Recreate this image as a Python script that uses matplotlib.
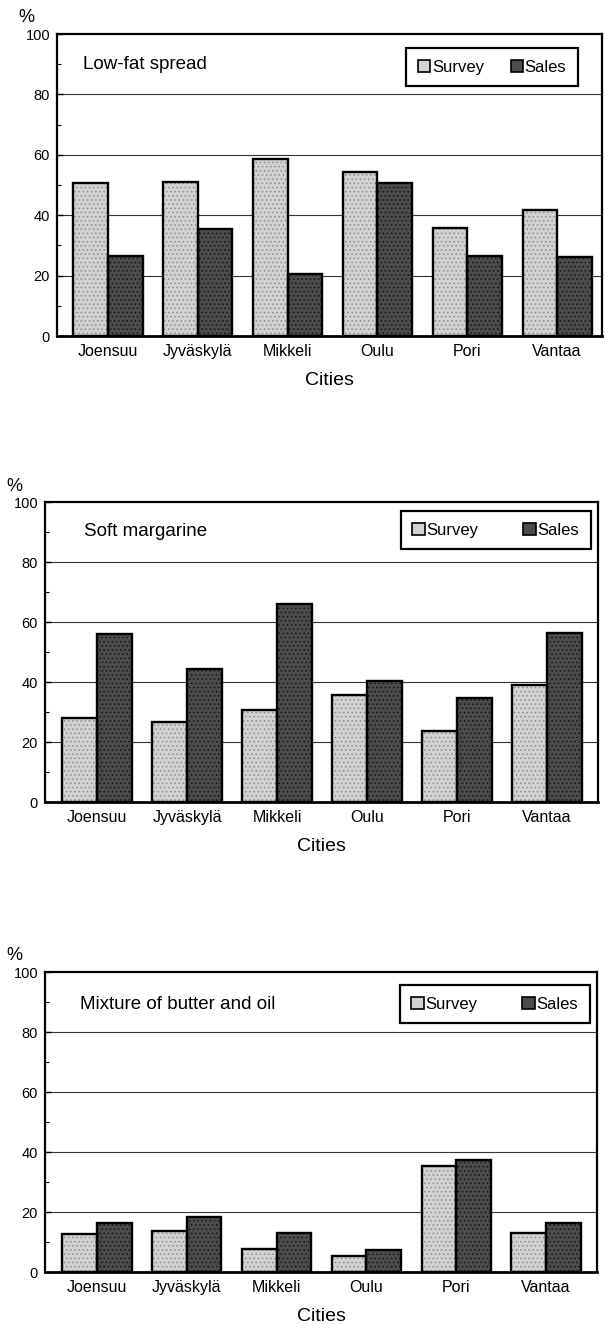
import numpy as np
import matplotlib
matplotlib.use("Agg")
import matplotlib.pyplot as plt
from matplotlib.patches import Patch
from matplotlib.ticker import MultipleLocator

plt.rcParams['font.family'] = ['Liberation Sans', 'DejaVu Sans']
plt.rcParams['hatch.linewidth'] = 0.6

# data (percent)
cities = ["Joensuu", "Jyväskylä", "Mikkeli", "Oulu", "Pori", "Vantaa"]
titles = ["Low-fat spread", "Soft margarine", "Mixture of butter and oil"]

lowfat_survey = [50.7, 51.0, 58.7, 54.3, 35.8, 41.6]
lowfat_sales = [26.4, 35.5, 20.5, 50.7, 26.4, 26.2]

soft_survey = [28.0, 26.8, 30.7, 35.8, 23.8, 39.0]
soft_sales = [56.1, 44.5, 66.1, 40.4, 34.7, 56.5]

mix_survey = [12.6, 13.8, 7.7, 5.5, 35.3, 13.0]
mix_sales = [16.3, 18.2, 13.0, 7.3, 37.5, 16.5]

W, H = 605, 1325
fig = plt.figure(figsize=(W / 100, H / 100), dpi=100)

# panel boxes in pixels: left, right, top, bottom
boxes = [(57, 602, 34, 336), (45, 598, 502, 802), (45, 597, 972, 1272)]
xlims = [(-0.568, 5.50), (-0.578, 5.567), (-0.578, 5.567)]
legend_anchor = [(0.956, 0.954), (0.987, 0.97), (0.987, 0.957)]
legend_colsp = [1.6, 2.7, 2.7]
title_pos = [(0.048, 0.90), (0.07, 0.903), (0.063, 0.893)]

survey_fc, survey_hc = "#d2d2d2", "#8c8c8c"
sales_fc, sales_hc = "#4c4c4c", "#141414"

series = [(lowfat_survey, lowfat_sales), (soft_survey, soft_sales), (mix_survey, mix_sales)]

x = np.arange(len(cities))
w = 0.385

for i, (surv, sale) in enumerate(series):
    l, r, t, b = boxes[i]
    ax = fig.add_axes([l / W, 1 - b / H, (r - l) / W, (b - t) / H])

    # fill + hatch first, then black outline on top
    ax.bar(x - w / 2, surv, w, color=survey_fc, edgecolor=survey_hc, hatch="....", lw=0, zorder=2)
    ax.bar(x + w / 2, sale, w, color=sales_fc, edgecolor=sales_hc, hatch="....", lw=0, zorder=2)
    ax.bar(x - w / 2, surv, w, fill=False, edgecolor="black", lw=1.7, zorder=3)
    ax.bar(x + w / 2, sale, w, fill=False, edgecolor="black", lw=1.7, zorder=3)

    ax.set_ylim(0, 100)
    ax.set_xlim(*xlims[i])
    ax.yaxis.set_major_locator(MultipleLocator(20))
    ax.yaxis.set_minor_locator(MultipleLocator(10))
    for yv in [20, 40, 60, 80]:
        ax.axhline(yv, color="#333333", lw=0.8, zorder=1)

    ax.set_xticks(x)
    ax.set_xticklabels(cities, fontsize=11.5)
    ax.tick_params(axis="x", length=0, pad=6)
    ax.tick_params(axis="y", which="major", direction="in", length=4, width=1, labelsize=10.5, pad=5)
    ax.tick_params(axis="y", which="minor", direction="in", length=3, width=0.8)
    for sp in ax.spines.values():
        sp.set_linewidth(1.6)
    ax.spines["bottom"].set_linewidth(2.0)

    ax.set_xlabel("Cities", fontsize=14, labelpad=9)
    ax.annotate("%", xy=(0, 1), xycoords="axes fraction", xytext=(-31, 16),
                textcoords="offset pixels", ha="center", va="center", fontsize=13)

    tx, ty = title_pos[i]
    ax.text(tx, ty, titles[i], transform=ax.transAxes, fontsize=13.5, va="center", ha="left")

    handles = [Patch(facecolor=survey_fc, edgecolor="black", lw=1.2, label="Survey"),
               Patch(facecolor=sales_fc, edgecolor="black", lw=1.2, label="Sales")]
    leg = ax.legend(handles=handles, loc="upper right", bbox_to_anchor=legend_anchor[i],
                    ncol=2, fontsize=12, frameon=True, fancybox=False, borderaxespad=0,
                    handlelength=0.75, handleheight=0.75, handletextpad=0.1,
                    columnspacing=legend_colsp[i], borderpad=0.7)
    leg.get_frame().set_edgecolor("black")
    leg.get_frame().set_linewidth(1.6)
    leg.get_frame().set_alpha(1)

fig.savefig("out.png", dpi=100)
